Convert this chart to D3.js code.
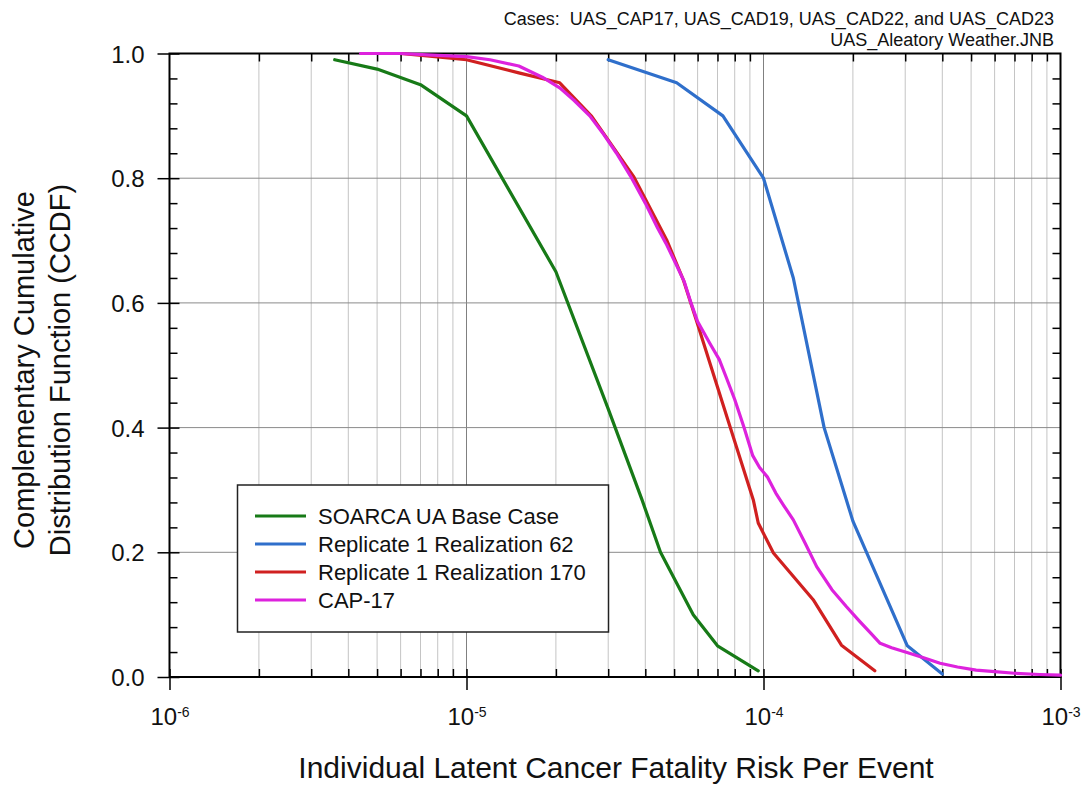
<!DOCTYPE html>
<html><head><meta charset="utf-8">
<script src="https://cdn.jsdelivr.net/npm/d3@7"></script>
<style>
body{margin:0;background:#fff;}
svg{font-family:"Liberation Sans",Arial,sans-serif;}
text{white-space:pre;}
</style></head>
<body>
<svg id="c" width="1083" height="785"></svg>
<script>
// ---- data ----
const seriesNames = ["SOARCA UA Base Case","Replicate 1 Realization 62","Replicate 1 Realization 170","CAP-17"];
const seriesColors = ["#177a17","#2f6fcb","#d02020","#dd22dd"];
const greenData = [[3.6e-6,0.99],[5e-6,0.975],[7e-6,0.95],[1e-5,0.9],[2e-5,0.65],[3e-5,0.43],[3.9e-5,0.284],[4.5e-5,0.2],[5.8e-5,0.1],[7e-5,0.05],[9.6e-5,0.01]];
const blueData = [[3e-5,0.99],[5.1e-5,0.953],[7.3e-5,0.9],[1.0e-4,0.8],[1.26e-4,0.64],[1.6e-4,0.40],[2.0e-4,0.25],[3.05e-4,0.05],[4.0e-4,0.005]];
const redData = [[6e-6,1.0],[1e-5,0.99],[1.5e-5,0.969],[2.06e-5,0.953],[2.64e-5,0.899],[3.65e-5,0.803],[4.72e-5,0.701],[5.37e-5,0.637],[5.96e-5,0.57],[7.73e-5,0.4],[9.24e-5,0.284],[9.6e-5,0.247],[1.08e-4,0.199],[1.47e-4,0.124],[1.83e-4,0.051],[2.37e-4,0.01]];
const magentaData = [[4.4e-6,1.0],[6e-6,1.0],[8e-6,0.997],[1e-5,0.995],[1.2e-5,0.99],[1.5e-5,0.98],[1.8e-5,0.962],[2.06e-5,0.945],[2.3e-5,0.925],[2.6e-5,0.9],[2.9e-5,0.87],[3.2e-5,0.84],[3.6e-5,0.8],[4e-5,0.76],[4.4e-5,0.72],[4.7e-5,0.695],[5.1e-5,0.66],[5.4e-5,0.635],[5.7e-5,0.6],[6e-5,0.57],[6.3e-5,0.552],[6.6e-5,0.535],[7.1e-5,0.509],[7.5e-5,0.48],[8e-5,0.445],[8.6e-5,0.4],[9.2e-5,0.355],[9.7e-5,0.336],[1.03e-4,0.321],[1.1e-4,0.295],[1.17e-4,0.275],[1.26e-4,0.252],[1.38e-4,0.215],[1.51e-4,0.177],[1.7e-4,0.14],[1.9e-4,0.113],[2.1e-4,0.09],[2.3e-4,0.07],[2.47e-4,0.054],[2.7e-4,0.047],[3.1e-4,0.038],[3.5e-4,0.03],[3.93e-4,0.022],[4.5e-4,0.016],[5.2e-4,0.011],[6e-4,0.0085],[7e-4,0.006],[8.5e-4,0.004],[1e-3,0.003]];
const allSeries = [greenData, blueData, redData, magentaData];
const xMajor = [1e-6,1e-5,1e-4,1e-3];
const xExponents = ["-6","-5","-4","-3"];
const yMajor = [0,0.2,0.4,0.6,0.8,1.0];
const titleLines = ["Cases:  UAS_CAP17, UAS_CAD19, UAS_CAD22, and UAS_CAD23","UAS_Aleatory Weather.JNB"];
const xTitle = "Individual Latent Cancer Fatality Risk Per Event";
const yTitleLines = ["Complementary Cumulative","Distribution Function (CCDF)"];

// ---- layout ----
const L=169.5, R=1060.5, T=53.5, B=677;
const svg = d3.select("#c");
const x = d3.scaleLog().domain([1e-6,1e-3]).range([L,R]);
const y = d3.scaleLinear().domain([0,1]).range([B,T]);
const xMinor = x.ticks().filter(v => !xMajor.some(m => Math.abs(v-m)/m < 1e-6));
const yMinor = d3.range(0,1.0001,0.04).filter(v => !yMajor.some(m => Math.abs(v-m)<1e-6));

// grid
const grid = svg.append("g");
grid.selectAll(".vmin").data(xMinor).join("line")
  .attr("x1",d=>x(d)).attr("x2",d=>x(d)).attr("y1",T).attr("y2",B)
  .attr("stroke","#c4c4c4").attr("stroke-width",1);
grid.selectAll(".vmaj").data(xMajor).join("line")
  .attr("x1",d=>x(d)).attr("x2",d=>x(d)).attr("y1",T).attr("y2",B)
  .attr("stroke","#808080").attr("stroke-width",1);
grid.selectAll(".hmaj").data(yMajor).join("line")
  .attr("x1",L).attr("x2",R).attr("y1",d=>y(d)).attr("y2",d=>y(d))
  .attr("stroke","#8a8a8a").attr("stroke-width",1);

function styleAxis(g){ g.select(".domain").remove(); g.selectAll("line").attr("stroke","#000").attr("stroke-width",1.5); }

// y axis
const gy = svg.append("g").attr("transform",`translate(${L},0)`)
  .call(d3.axisLeft(y).tickValues(yMajor).tickFormat(d3.format(".1f")).tickSize(12).tickPadding(13));
styleAxis(gy);
gy.selectAll("text").attr("font-size",24).attr("fill","#111").attr("font-family","Liberation Sans, Arial, sans-serif").attr("dy","0.36em");
svg.append("g").attr("transform",`translate(${L},0)`)
  .call(d3.axisRight(y).tickValues(yMinor).tickFormat("").tickSize(8)).call(styleAxis);
svg.append("g").attr("transform",`translate(${L},0)`)
  .call(d3.axisRight(y).tickValues(yMajor).tickFormat("").tickSize(10)).call(styleAxis);
svg.append("g").attr("transform",`translate(${R},0)`)
  .call(d3.axisLeft(y).tickValues(yMinor).tickFormat("").tickSize(8)).call(styleAxis);

// x axis
const gx = svg.append("g").attr("transform",`translate(0,${B})`)
  .call(d3.axisBottom(x).tickValues(xMajor).tickFormat("").tickSize(13));
styleAxis(gx);
gx.selectAll(".tick text").each(function(d,i){
  const t = d3.select(this).attr("font-size",24).attr("fill","#111")
    .attr("font-family","Liberation Sans, Arial, sans-serif").attr("y",48).attr("dy",0);
  t.append("tspan").text("10");
  t.append("tspan").attr("font-size",14).attr("dy",-8).text(xExponents[i]);
});
svg.append("g").attr("transform",`translate(0,${B})`)
  .call(d3.axisTop(x).tickValues(xMinor).tickFormat("").tickSize(8)).call(styleAxis);
svg.append("g").attr("transform",`translate(0,${B})`)
  .call(d3.axisTop(x).tickValues(xMajor).tickFormat("").tickSize(8)).call(styleAxis);
svg.append("g").attr("transform",`translate(0,${T})`)
  .call(d3.axisBottom(x).tickValues(xMinor).tickFormat("").tickSize(8)).call(styleAxis);

// frame
svg.append("rect").attr("x",L).attr("y",T).attr("width",R-L).attr("height",B-T)
  .attr("fill","none").attr("stroke","#000").attr("stroke-width",2);

// lines
const line = d3.line().x(d=>x(d[0])).y(d=>y(d[1]));
svg.append("g").selectAll("path").data(allSeries).join("path")
  .attr("d",line).attr("fill","none")
  .attr("stroke",(d,i)=>seriesColors[i]).attr("stroke-width",3.2)
  .attr("stroke-linejoin","round").attr("stroke-linecap","round");

// legend
const lg = svg.append("g");
lg.append("rect").attr("x",237.5).attr("y",485).attr("width",371).attr("height",147)
  .attr("fill","#fff").attr("stroke","#222").attr("stroke-width",1.5);
seriesNames.forEach((n,i)=>{
  const yy = 516 + i*28;
  lg.append("line").attr("x1",255).attr("x2",306).attr("y1",yy).attr("y2",yy)
    .attr("stroke",seriesColors[i]).attr("stroke-width",3.2);
  lg.append("text").attr("x",318).attr("y",yy+8).attr("font-size",22).attr("fill","#111").text(n);
});

// titles
titleLines.forEach((t,i)=>{
  svg.append("text").attr("x",1054).attr("y",25+i*21).attr("text-anchor","end")
    .attr("font-size",18).attr("fill","#111").text(t);
});
svg.append("text").attr("x",616).attr("y",778).attr("text-anchor","middle")
  .attr("font-size",30).attr("fill","#111").text(xTitle);
yTitleLines.forEach((t,i)=>{
  svg.append("text").attr("transform",`translate(${34+i*36},370) rotate(-90)`)
    .attr("text-anchor","middle").attr("font-size",29).attr("fill","#111").text(t);
});
</script>
</body></html>
